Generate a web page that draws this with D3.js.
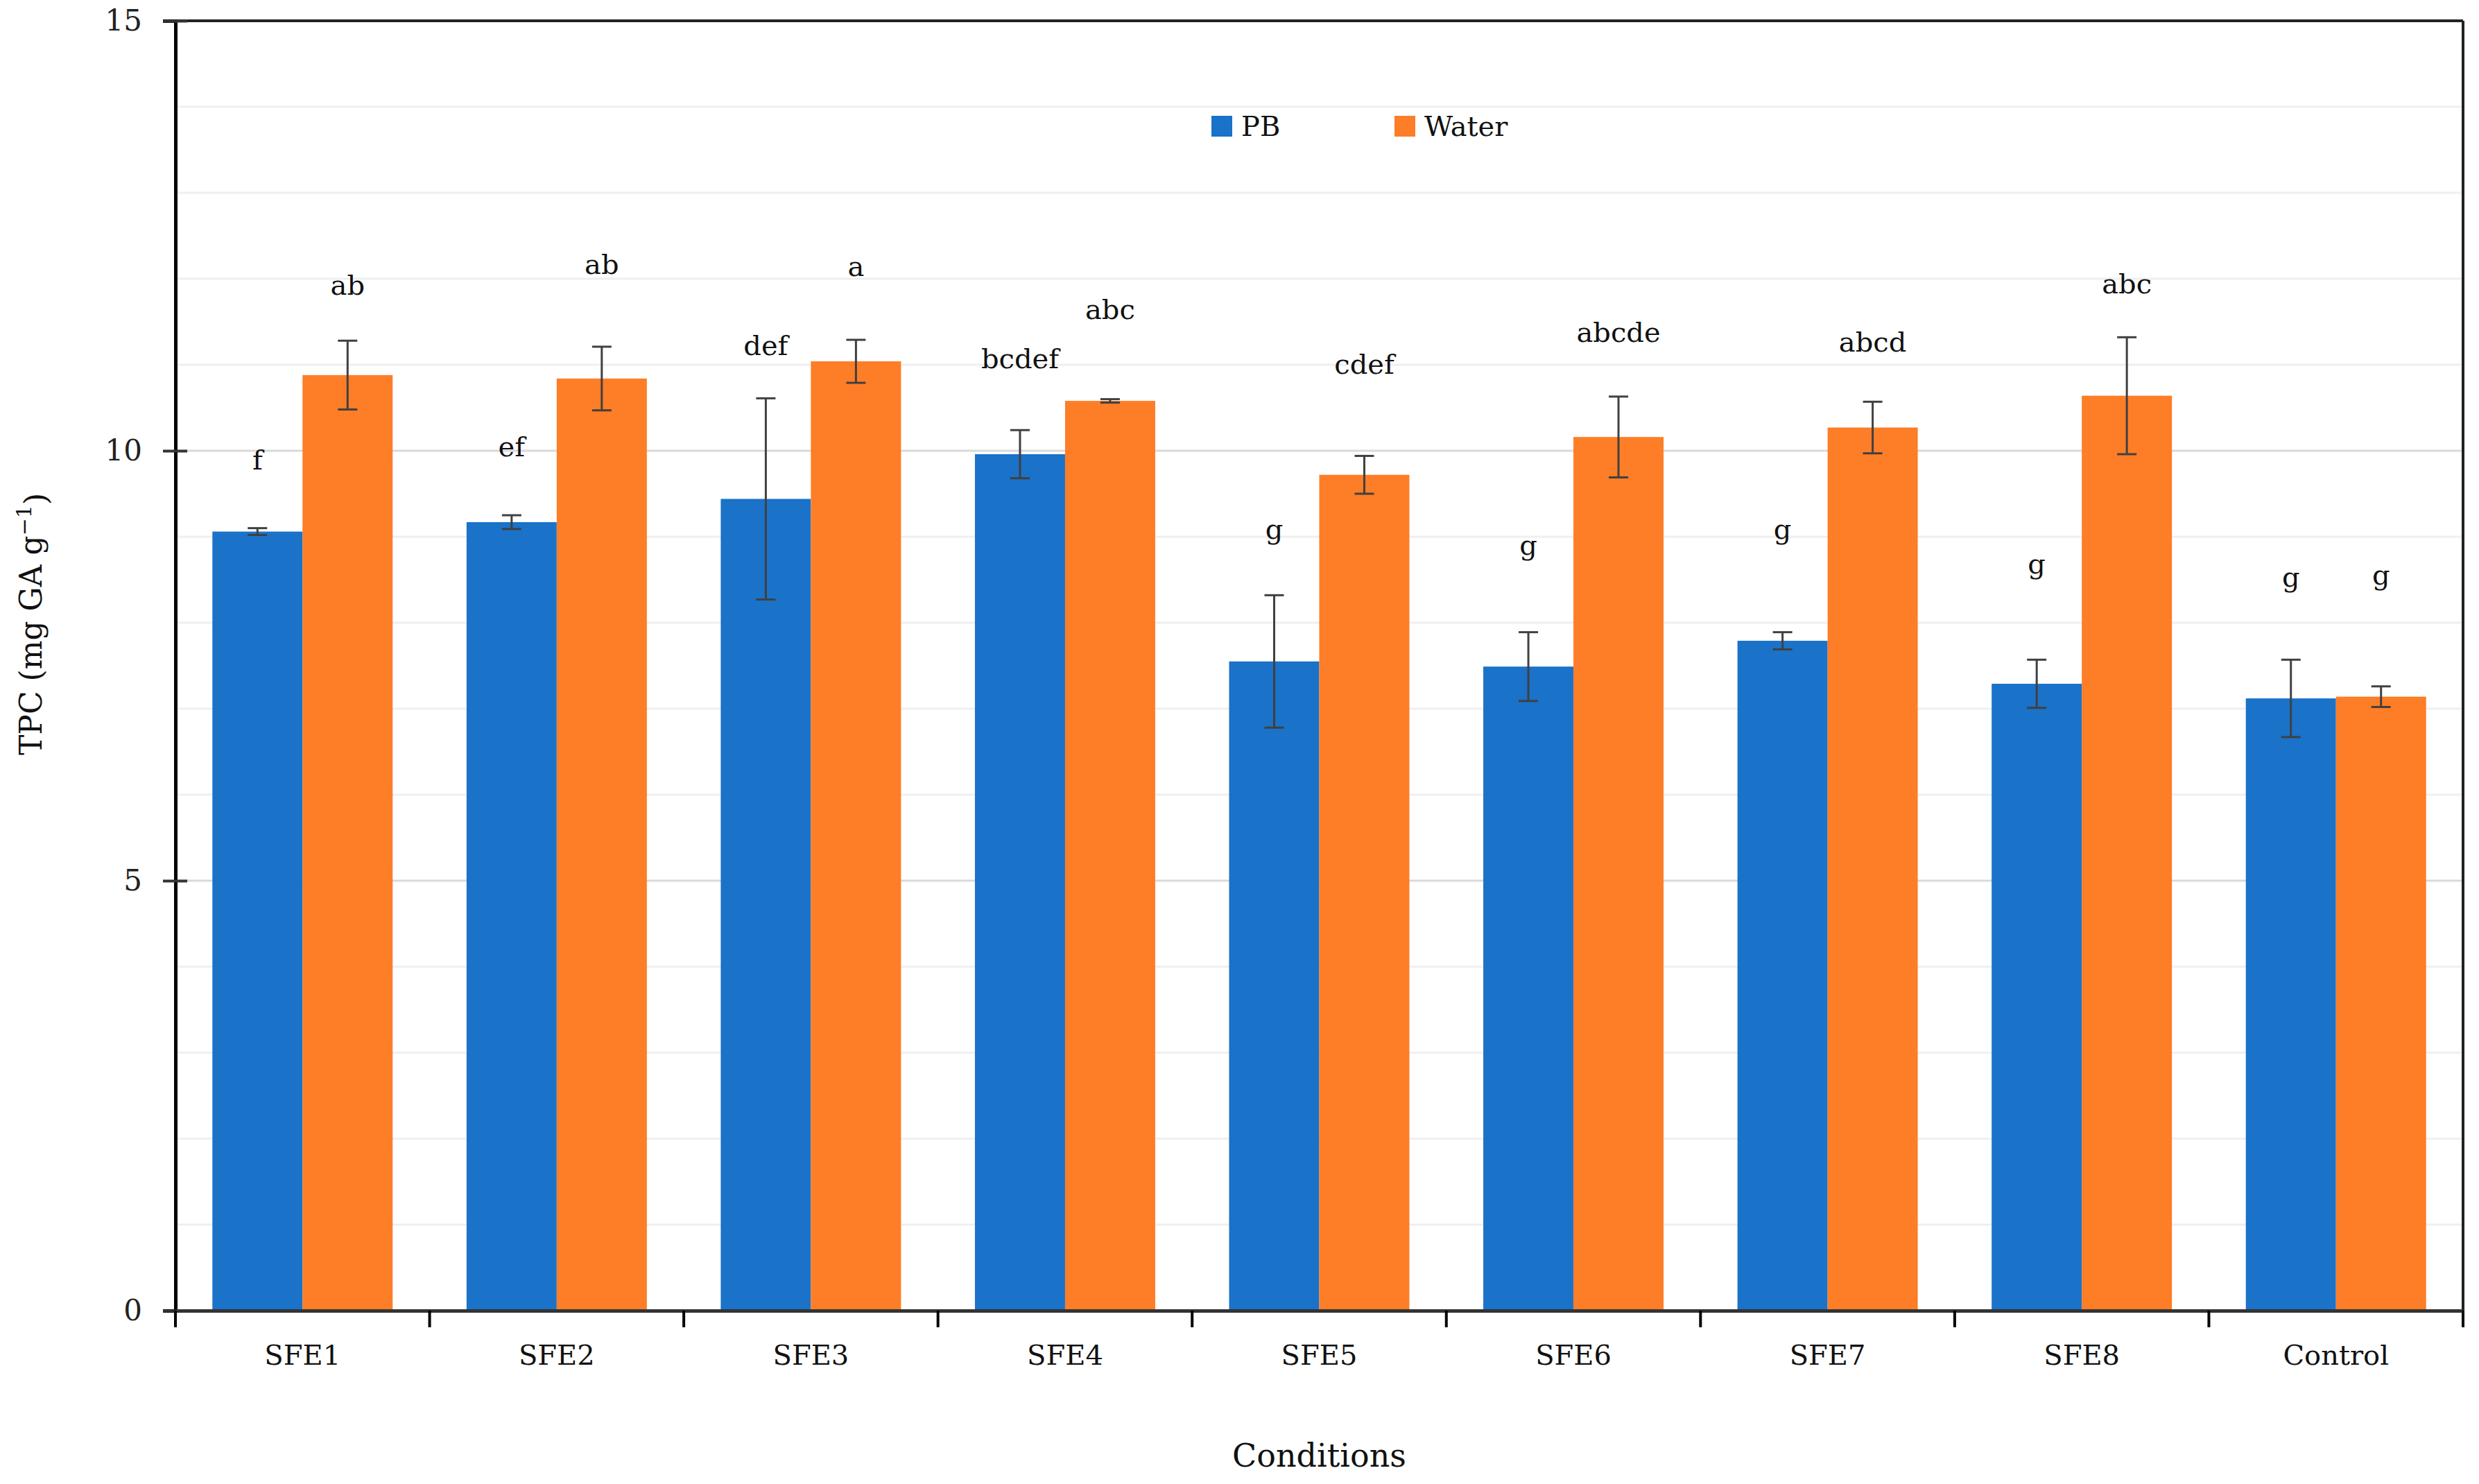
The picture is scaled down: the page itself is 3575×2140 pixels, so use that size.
<!DOCTYPE html>
<meta charset="utf-8">
<script src="https://d3js.org/d3.v7.min.js"></script>
<style>
  body { margin: 0; background: #fff; }
  svg text { font-family: "DejaVu Serif", "Liberation Serif", serif; }
</style>
<div id="chart"></div>
<script>
// data
var conditions = ["SFE1", "SFE2", "SFE3", "SFE4", "SFE5", "SFE6", "SFE7", "SFE8", "Control"];
var series = ["PB", "Water"];
var pbValues    = [9.06, 9.17, 9.44, 9.96, 7.55, 7.49, 7.79, 7.29, 7.12];
var pbErrors    = [0.04, 0.08, 1.17, 0.28, 0.77, 0.40, 0.10, 0.28, 0.45];
var waterValues = [10.88, 10.84, 11.04, 10.58, 9.72, 10.16, 10.27, 10.64, 7.14];
var waterErrors = [0.40, 0.37, 0.25, 0.02, 0.22, 0.47, 0.30, 0.68, 0.12];
var pbLetters    = ["f", "ef", "def", "bcdef", "g", "g", "g", "g", "g"];
var waterLetters = ["ab", "ab", "a", "abc", "cdef", "abcde", "abcd", "abc", "g"];
// height (in TPC units) where each letter group sits
var pbLetterLevel    = [9.88, 10.03, 11.21, 11.06, 9.07, 8.89, 9.07, 8.67, 8.52];
var waterLetterLevel = [11.91, 12.15, 12.13, 11.63, 10.99, 11.36, 11.25, 11.93, 8.54];
var yTicks = [0, 5, 10, 15];

var colors = {PB: "#1a72c9", Water: "#fe7d27"};
var serif = "'DejaVu Serif', 'Liberation Serif', serif";

var W = 3575, H = 2140;
var margin = {top: 30, right: 23, bottom: 250, left: 253};
var width = W - margin.left - margin.right,
    height = H - margin.top - margin.bottom;

var svg = d3.select("#chart")
  .append("svg")
    .attr("width", W)
    .attr("height", H)
  .append("g")
    .attr("transform", "translate(" + margin.left + "," + margin.top + ")");

var rows = conditions.map(function(c, i) {
  return {
    cond: c,
    bars: [
      {key: "PB", value: pbValues[i], err: pbErrors[i], letter: pbLetters[i], level: pbLetterLevel[i]},
      {key: "Water", value: waterValues[i], err: waterErrors[i], letter: waterLetters[i], level: waterLetterLevel[i]}
    ]
  };
});

var x = d3.scaleBand().domain(conditions).range([0, width]).padding(0);
var xSub = d3.scaleBand().domain(series).range([0, x.bandwidth()]).paddingInner(0).paddingOuter(0.41);
var y = d3.scaleLinear().domain([0, 15]).range([height, 0]);

// gridlines every unit
svg.append("g")
  .selectAll("line")
  .data(d3.range(1, 15))
  .enter()
  .append("line")
    .attr("x1", 0)
    .attr("x2", width)
    .attr("y1", function(d) { return y(d); })
    .attr("y2", function(d) { return y(d); })
    .attr("stroke", function(d) { return d % 5 === 0 ? "#d9d9d9" : "#efefef"; })
    .attr("stroke-width", 3);

// bars
var groups = svg.selectAll(".grp")
  .data(rows)
  .enter()
  .append("g")
    .attr("class", "grp")
    .attr("transform", function(d) { return "translate(" + x(d.cond) + ",0)"; });

var bar = groups.selectAll(".bar")
  .data(function(d) { return d.bars; })
  .enter()
  .append("g")
    .attr("class", "bar");

bar.append("rect")
  .attr("x", function(d) { return xSub(d.key); })
  .attr("width", xSub.bandwidth())
  .attr("y", function(d) { return y(d.value); })
  .attr("height", function(d) { return height - y(d.value); })
  .attr("fill", function(d) { return colors[d.key]; });

// error bars
var cx = function(d) { return xSub(d.key) + xSub.bandwidth() / 2; };
var cap = 14;
bar.append("line")
  .attr("x1", cx).attr("x2", cx)
  .attr("y1", function(d) { return y(d.value + d.err); })
  .attr("y2", function(d) { return y(d.value - d.err); })
  .attr("stroke", "#404040").attr("stroke-width", 3);
bar.selectAll(".cap")
  .data(function(d) { return [{key: d.key, v: d.value + d.err}, {key: d.key, v: d.value - d.err}]; })
  .enter()
  .append("line")
    .attr("x1", function(d) { return cx(d) - cap; })
    .attr("x2", function(d) { return cx(d) + cap; })
    .attr("y1", function(d) { return y(d.v); })
    .attr("y2", function(d) { return y(d.v); })
    .attr("stroke", "#404040").attr("stroke-width", 3);

// significance letters
bar.append("text")
  .attr("x", cx)
  .attr("y", function(d) { return y(d.level); })
  .attr("dy", "0.3em")
  .attr("text-anchor", "middle")
  .style("font-family", serif)
  .style("font-size", "40px")
  .attr("fill", "#111")
  .text(function(d) { return d.letter; });

// frame: top and right lines
svg.append("line")
  .attr("x1", 0).attr("x2", width).attr("y1", 0).attr("y2", 0)
  .attr("stroke", "#222").attr("stroke-width", 4);
svg.append("line")
  .attr("x1", width).attr("x2", width).attr("y1", 0).attr("y2", height)
  .attr("stroke", "#222").attr("stroke-width", 4);

// y axis
var yAxis = svg.append("g")
  .call(d3.axisLeft(y).tickValues(yTicks).tickSize(18).tickPadding(30));
yAxis.select(".domain").attr("stroke", "#000").attr("stroke-width", 5);
yAxis.selectAll(".tick line").attr("x2", 17).attr("x1", -18).attr("stroke", "#333").attr("stroke-width", 4);
yAxis.selectAll(".tick text")
  .style("font-size", "42px")
  .style("font-family", serif)
  .attr("fill", "#222");

// x axis
var xAxis = svg.append("g")
  .attr("transform", "translate(0," + height + ")")
  .call(d3.axisBottom(x).tickSize(0).tickPadding(50));
xAxis.select(".domain").attr("stroke", "#333").attr("stroke-width", 5);
xAxis.selectAll(".tick text")
  .style("font-size", "40px")
  .style("font-family", serif)
  .attr("fill", "#111");

// boundary ticks between categories
svg.append("g")
  .attr("transform", "translate(0," + height + ")")
  .selectAll("line")
  .data(conditions.map(function(c) { return x(c); }).concat([width]))
  .enter()
  .append("line")
    .attr("x1", function(d) { return d; })
    .attr("x2", function(d) { return d; })
    .attr("y1", 0)
    .attr("y2", 24)
    .attr("stroke", "#000")
    .attr("stroke-width", 4);

// axis titles
svg.append("text")
  .attr("x", width / 2)
  .attr("y", height + 225)
  .attr("text-anchor", "middle")
  .style("font-family", serif)
  .style("font-size", "46px")
  .attr("fill", "#111")
  .text("Conditions");

var yt = svg.append("text")
  .attr("transform", "translate(" + (-margin.left + 60) + "," + (height / 2 - 60) + ") rotate(-90)")
  .attr("text-anchor", "middle")
  .style("font-family", serif)
  .style("font-size", "44px")
  .attr("fill", "#111");
yt.append("tspan").text("TPC (mg GA g");
yt.append("tspan").attr("dy", "-0.5em").style("font-size", "30px").text("\u22121");
yt.append("tspan").attr("dy", "0.5em").text(")");

// legend
var legend = svg.append("g")
  .attr("transform", "translate(" + (1747 - margin.left) + "," + (182 - margin.top) + ")");
var leg = legend.selectAll("g")
  .data(series)
  .enter()
  .append("g")
    .attr("transform", function(d, i) { return "translate(" + (i * 264) + ",0)"; });
leg.append("rect")
  .attr("x", 0).attr("y", -15)
  .attr("width", 30).attr("height", 30)
  .attr("fill", function(d) { return colors[d]; });
leg.append("text")
  .attr("x", 43)
  .attr("dy", "0.35em")
  .style("font-family", serif)
  .style("font-size", "40px")
  .attr("fill", "#111")
  .text(function(d) { return d; });
</script>
